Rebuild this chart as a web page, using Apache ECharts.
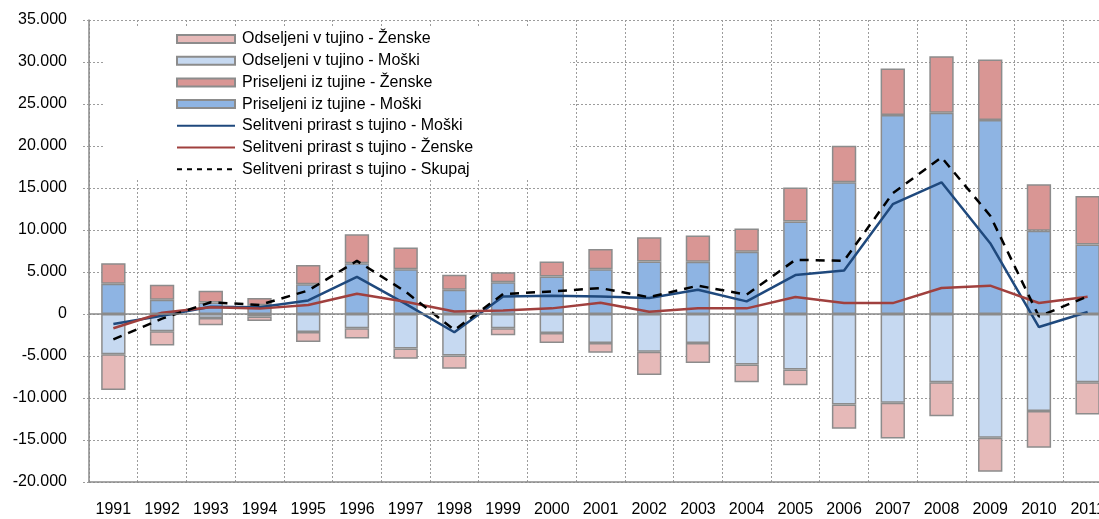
<!DOCTYPE html>
<html><head><meta charset="utf-8">
<script src="https://cdn.jsdelivr.net/npm/echarts@6/dist/echarts.min.js"></script>
<style>html,body{margin:0;padding:0;background:#fff}#c{width:1099px;height:519px}</style>
</head><body><div id="c"></div>
<script>
const years = ['1991','1992','1993','1994','1995','1996','1997','1998','1999','2000','2001','2002','2003','2004','2005','2006','2007','2008','2009','2010','2011'];
const yTickLabels = ['-20.000','-15.000','-10.000','-5.000','0','5.000','10.000','15.000','20.000','25.000','30.000','35.000'];

const priseljeniMoski  = [3600, 1700, 1380, 1030, 3550, 6050, 5330, 2880, 3790, 4460, 5330, 6240, 6220, 7400, 11010, 15680, 23680, 23960, 23090, 9900, 8280];
const priseljeniZenske = [2450, 1780, 1380, 870, 2290, 3430, 2600, 1780, 1190, 1780, 2410, 2890, 3130, 2780, 4040, 4360, 5550, 6730, 7200, 5540, 5780];
const odseljeniMoski   = [-4800, -2050, -470, -300, -2130, -1700, -4110, -4940, -1700, -2250, -3440, -4500, -3450, -6020, -6610, -10770, -10570, -8120, -14730, -11560, -8120];
const odseljeniZenske  = [-4250, -1700, -870, -530, -1190, -1220, -1220, -1580, -830, -1190, -1180, -2770, -2370, -2100, -1870, -2890, -4240, -4040, -4040, -4360, -3840];

const netMoski  = [-1190, -200, 870, 800, 1620, 4420, 1200, -2170, 2090, 2170, 2090, 1900, 2890, 1500, 4630, 5190, 13070, 15680, 8430, -1550, 240];
const netZenske = [-1700, 150, 790, 640, 1070, 2410, 1450, 300, 430, 670, 1340, 280, 670, 670, 2020, 1310, 1300, 3090, 3370, 1310, 2060];
const netSkupaj = [-3020, -550, 1400, 1070, 2800, 6320, 2650, -1900, 2370, 2690, 3080, 2000, 3370, 2300, 6450, 6340, 14380, 18650, 11700, -300, 2100];

const names = {
  oz: 'Odseljeni v tujino - Ženske',
  om: 'Odseljeni v tujino - Moški',
  pz: 'Priseljeni iz tujine - Ženske',
  pm: 'Priseljeni iz tujine - Moški',
  sm: 'Selitveni prirast s tujino - Moški',
  sz: 'Selitveni prirast s tujino - Ženske',
  ss: 'Selitveni prirast s tujino - Skupaj'
};

const FONT = '"Liberation Sans", Arial, sans-serif';
const gridColor = '#9c9c9c';
const axisColor = '#8a8a8a';
const barBorder = '#8c8c8c';
const noSymbol = { color: 'rgba(0,0,0,0)', borderWidth: 0, opacity: 0 };

function barSeries(name, data, color, extra) {
  return Object.assign({
    name: name, type: 'bar', stack: 'all', data: data, barWidth: '50%',
    itemStyle: { color: color, borderColor: barBorder, borderWidth: 1.5 }
  }, extra || {});
}

const chart = echarts.init(document.getElementById('c'), null, { renderer: 'canvas' });
chart.setOption({
  animation: false,
  textStyle: { fontFamily: FONT },
  grid: { left: 89, top: 20, right: -13, bottom: 37, containLabel: false, outerBoundsMode: 'none' },
  legend: {
    orient: 'vertical',
    left: 103, top: 26,
    padding: [5, 97, 1, 73],
    backgroundColor: '#ffffff',
    itemWidth: 58, itemHeight: 8, itemGap: 5.7,
    textStyle: { fontFamily: FONT, fontSize: 16, color: '#000', lineHeight: 16, padding: [0, 0, 0, 2] },
    data: [
      { name: names.oz, icon: 'rect' },
      { name: names.om, icon: 'rect' },
      { name: names.pz, icon: 'rect' },
      { name: names.pm, icon: 'rect' },
      { name: names.sm, itemStyle: noSymbol },
      { name: names.sz, itemStyle: noSymbol },
      { name: names.ss, itemStyle: noSymbol, lineStyle: { type: [5, 5], width: 2 } }
    ]
  },
  xAxis: {
    type: 'category', data: years,
    axisLine: { onZero: false, lineStyle: { color: axisColor, width: 1.5 } },
    axisTick: { show: false },
    axisLabel: { fontFamily: FONT, fontSize: 16, color: '#000', margin: 20 },
    splitLine: { show: true, lineStyle: { color: gridColor, type: [2, 2], width: 1 } }
  },
  yAxis: {
    type: 'value', min: -20000, max: 35000, interval: 5000,
    axisLine: { show: true, lineStyle: { color: axisColor, width: 1.5 } },
    axisTick: { show: true, length: 6, lineStyle: { color: gridColor, type: [2, 2] } },
    axisLabel: {
      fontFamily: FONT, fontSize: 16, color: '#000', margin: 22,
      formatter: function (v) { return yTickLabels[Math.round((v + 20000) / 5000)]; }
    },
    splitLine: { show: true, lineStyle: { color: gridColor, type: [2, 2], width: 1 } }
  },
  series: [
    barSeries(names.pm, priseljeniMoski, '#8EB4E3', {
      markLine: {
        silent: true, symbol: 'none', label: { show: false },
        lineStyle: { color: axisColor, type: 'solid', width: 1.5 },
        data: [{ yAxis: 0 }]
      }
    }),
    barSeries(names.pz, priseljeniZenske, '#D99694'),
    barSeries(names.om, odseljeniMoski, '#C6D9F1'),
    barSeries(names.oz, odseljeniZenske, '#E6B9B8'),
    { name: names.sm, type: 'line', data: netMoski, symbol: 'none',
      lineStyle: { color: '#1F497D', width: 2.5 }, itemStyle: { color: '#1F497D' } },
    { name: names.sz, type: 'line', data: netZenske, symbol: 'none',
      lineStyle: { color: '#A0403E', width: 2.5 }, itemStyle: { color: '#A0403E' } },
    { name: names.ss, type: 'line', data: netSkupaj, symbol: 'none',
      lineStyle: { color: '#000000', width: 2.5, type: [9, 7] }, itemStyle: { color: '#000000' } }
  ]
});
</script></body></html>
